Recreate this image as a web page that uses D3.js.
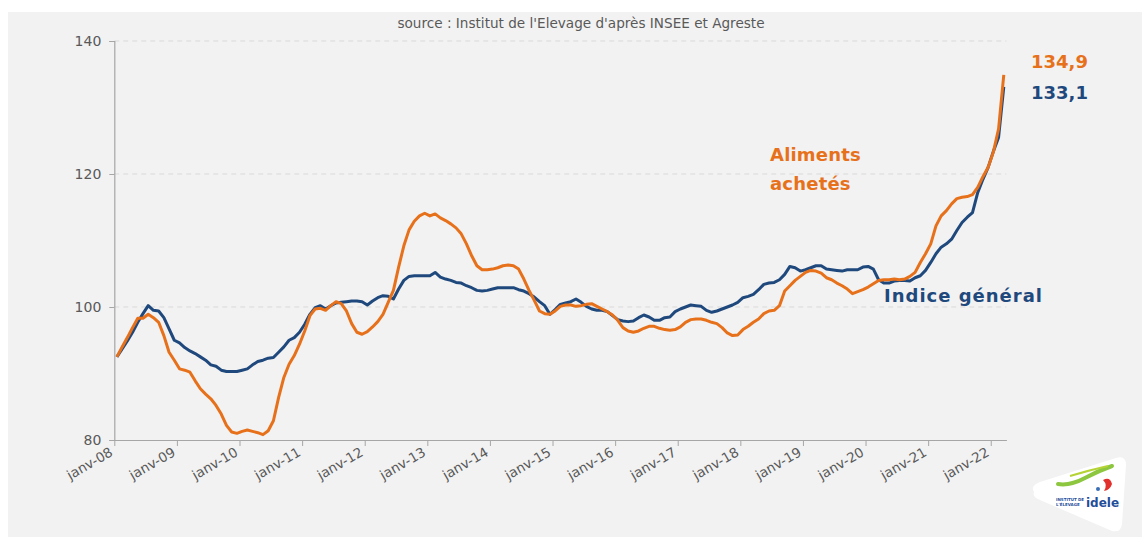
<!DOCTYPE html>
<html><head><meta charset="utf-8">
<script src="https://cdn.jsdelivr.net/npm/d3@7"></script>
<style>
html,body{margin:0;padding:0;background:#ffffff;}
svg{display:block;}
</style></head>
<body>
<svg id="c" width="1142" height="537"></svg>
<script>
// ---- DATA (monthly, janv-2008 .. mars-2022) ----
const yearLabels = ["janv-08","janv-09","janv-10","janv-11","janv-12","janv-13","janv-14","janv-15","janv-16","janv-17","janv-18","janv-19","janv-20","janv-21","janv-22"];
const yTicks = [80, 100, 120, 140];
const indiceGeneral = [
92.5,93.7,94.9,96.2,97.7,99.0,100.2,99.5,99.4,98.4,96.7,95.0,
94.6,93.9,93.4,93.0,92.5,92.0,91.3,91.1,90.5,90.3,90.3,90.3,
90.5,90.7,91.3,91.8,92.0,92.3,92.4,93.2,94.0,95.0,95.4,96.2,
97.4,98.9,99.9,100.2,99.7,100.2,100.6,100.7,100.8,100.9,100.9,100.8,
100.3,100.9,101.4,101.7,101.6,101.2,102.7,104.0,104.6,104.7,104.7,104.7,
104.7,105.2,104.5,104.2,104.0,103.7,103.6,103.2,102.9,102.5,102.4,102.5,
102.7,102.9,102.9,102.9,102.9,102.6,102.4,102.0,101.5,100.8,100.2,98.9,
99.6,100.4,100.6,100.8,101.2,100.7,100.1,99.7,99.5,99.5,99.3,98.7,
98.1,97.9,97.8,97.9,98.4,98.8,98.5,98.0,98.0,98.4,98.5,99.3,
99.7,100.0,100.3,100.2,100.1,99.5,99.2,99.4,99.7,100.0,100.3,100.7,
101.4,101.6,101.9,102.6,103.4,103.6,103.7,104.1,104.9,106.1,105.9,105.4,
105.6,105.9,106.2,106.2,105.7,105.6,105.5,105.4,105.6,105.6,105.6,106.0,
106.1,105.7,104.1,103.6,103.6,103.9,104.0,104.0,103.9,104.4,104.7,105.5,
106.7,108.0,109.0,109.5,110.2,111.5,112.7,113.5,114.2,117.2,119.2,121.0,
123.4,125.5,133.1];
const alimentsAchetes = [
92.5,94.0,95.4,96.9,98.3,98.3,98.9,98.4,97.7,95.7,93.2,92.0,
90.7,90.5,90.2,88.9,87.7,86.9,86.2,85.2,83.9,82.2,81.2,81.0,
81.3,81.5,81.3,81.1,80.8,81.4,82.9,86.4,89.4,91.4,92.7,94.4,
96.4,98.7,99.7,99.8,99.5,100.2,100.8,100.5,99.4,97.5,96.2,95.9,
96.3,97.0,97.8,98.9,100.7,102.5,106.0,109.2,111.6,112.9,113.7,114.1,
113.7,114.0,113.4,113.0,112.5,111.9,111.0,109.5,107.7,106.2,105.6,105.6,
105.7,105.9,106.2,106.3,106.2,105.7,104.2,102.5,101.0,99.4,99.0,98.9,
99.4,100.1,100.3,100.3,100.1,100.2,100.4,100.5,100.1,99.7,99.3,98.8,
98.0,96.9,96.4,96.2,96.4,96.8,97.1,97.1,96.8,96.6,96.5,96.6,
97.0,97.7,98.1,98.2,98.2,98.0,97.7,97.5,96.9,96.1,95.7,95.8,
96.6,97.1,97.7,98.2,99.0,99.4,99.5,100.2,102.4,103.2,104.0,104.6,
105.2,105.5,105.4,105.1,104.4,104.1,103.6,103.2,102.7,102.0,102.3,102.6,
103.0,103.5,104.0,104.1,104.1,104.2,104.1,104.2,104.6,105.2,106.7,108.0,
109.5,112.2,113.7,114.5,115.5,116.3,116.5,116.6,116.9,118.0,119.6,121.0,
123.3,126.8,134.9];
const sourceText = "source : Institut de l'Elevage d'après INSEE et Agreste";
const lastLabels = ["134,9", "133,1"];

// ---- LAYOUT ----
const svg = d3.select("#c");
const W = 1142, H = 537;
const mLeft = 114.3, mRight = 1006.4, mTop = 41, mBottom = 440;
const nMonths = indiceGeneral.length; // 171
const orange = "#E7711B", blue = "#1F497D", grey = "#595959";
const font = "'DejaVu Sans', sans-serif";

// panel background
svg.append("rect").attr("x", 8).attr("y", 12).attr("width", W - 8).attr("height", H - 12).attr("fill", "#f2f2f2");

const x = d3.scaleLinear().domain([0, nMonths]).range([mLeft, mRight]);
const y = d3.scaleLinear().domain([80, 140]).range([mBottom, mTop]);

// gridlines
svg.append("g").selectAll("line").data(yTicks.filter(d => d > 80)).join("line")
  .attr("x1", mLeft).attr("x2", mRight)
  .attr("y1", d => y(d)).attr("y2", d => y(d))
  .attr("stroke", "#d9d9d9").attr("stroke-width", 1).attr("stroke-dasharray", "5,4");

// y axis
const yAxis = svg.append("g").attr("transform", `translate(${mLeft},0)`)
  .call(d3.axisLeft(y).tickValues(yTicks).tickSize(5).tickPadding(8).tickFormat(d3.format("d")));
yAxis.select(".domain").attr("stroke", "#a6a6a6").attr("stroke-width", 1.2);
yAxis.selectAll(".tick line").attr("stroke", "#a6a6a6");
yAxis.selectAll("text").attr("fill", grey).attr("font-family", font).attr("font-size", 14);

// x axis
const xAxis = svg.append("g").attr("transform", `translate(0,${mBottom})`)
  .call(d3.axisBottom(x).tickValues(yearLabels.map((d, i) => i * 12)).tickSize(6).tickSizeOuter(0)
    .tickFormat((d, i) => yearLabels[i]));
xAxis.select(".domain").attr("stroke", "#a6a6a6").attr("stroke-width", 1.2);
xAxis.selectAll(".tick line").attr("stroke", "#a6a6a6");
xAxis.selectAll("text")
  .attr("fill", grey).attr("font-family", font).attr("font-size", 13.5)
  .attr("text-anchor", "end").attr("dy", null).attr("y", 0)
  .attr("transform", "translate(-1,15) rotate(-30)");

// lines
const line = d3.line().x((d, i) => x(i + 0.5)).y(d => y(d));
svg.append("path").datum(indiceGeneral).attr("d", line)
  .attr("fill", "none").attr("stroke", blue).attr("stroke-width", 3).attr("stroke-linejoin", "round");
svg.append("path").datum(alimentsAchetes).attr("d", line)
  .attr("fill", "none").attr("stroke", orange).attr("stroke-width", 3).attr("stroke-linejoin", "round");

// source
svg.append("text").attr("x", 581).attr("y", 28).attr("text-anchor", "middle")
  .attr("font-family", font).attr("font-size", 13.6).attr("fill", grey).text(sourceText);

// series labels
const lab = (t, xx, yy, c, ls) => svg.append("text").attr("x", xx).attr("y", yy)
  .attr("font-family", font).attr("font-weight", "bold").attr("font-size", 18)
  .attr("letter-spacing", ls || 0).attr("fill", c).text(t);
lab("Aliments", 770, 161, orange, 0.2);
lab("achetés", 770, 190, orange, 0.2);
lab("Indice général", 884, 302, blue, 1);
lab(lastLabels[0], 1031, 68, orange);
lab(lastLabels[1], 1031, 99, blue);

// logo
const lg = svg.append("g");
lg.append("path").attr("d", "M1034,492 Q1030,486 1040,482 L1116,458 Q1126,455 1126,465 L1122,524 Q1121,533 1112,531 L1040,500 Q1032,497 1034,492 Z")
  .attr("fill", "#ffffff");
lg.append("path").attr("d", "M1058,484 Q1070,486 1085,478 Q1098,471 1112,466").attr("stroke", "#8dc63f").attr("stroke-width", 4).attr("fill", "none").attr("stroke-linecap", "round");
lg.append("path").attr("d", "M1070,476 Q1090,470 1108,466").attr("stroke", "#b5d334").attr("stroke-width", 2).attr("fill", "none");
lg.append("path").attr("d", "M1103,480 Q1110,476 1112,484 Q1110,490 1104,491 Q1108,485 1103,480 Z").attr("fill", "#e2312d");
lg.append("circle").attr("cx", 1098).attr("cy", 489).attr("r", 2).attr("fill", "#3a6fb5");
lg.append("text").attr("x", 1056).attr("y", 501).attr("font-family", font).attr("font-size", 4).attr("font-weight", "bold").attr("fill", "#1f4e9a").text("INSTITUT DE");
lg.append("text").attr("x", 1056).attr("y", 506).attr("font-family", font).attr("font-size", 4).attr("font-weight", "bold").attr("fill", "#1f4e9a").text("L'ÉLEVAGE");
lg.append("text").attr("x", 1086).attr("y", 507).attr("font-family", font).attr("font-size", 12).attr("font-weight", "bold").attr("fill", "#1f4e9a").text("idele");
</script>
</body></html>
